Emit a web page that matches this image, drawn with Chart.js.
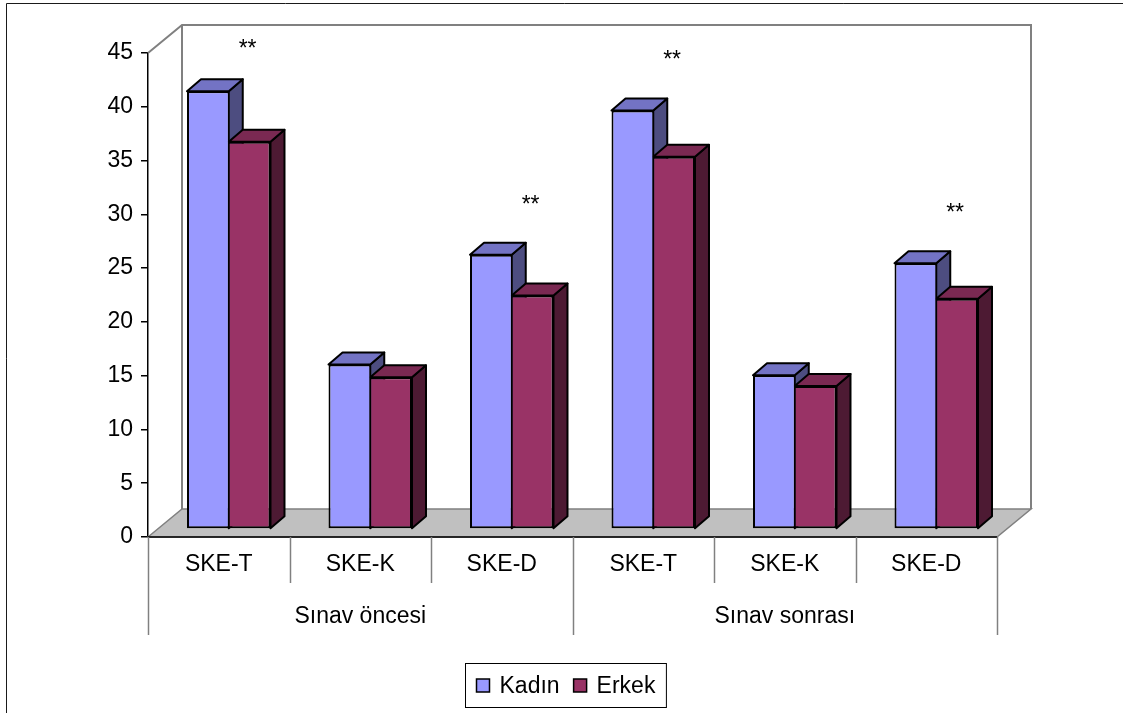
<!DOCTYPE html>
<html>
<head>
<meta charset="utf-8">
<style>
  html, body { margin: 0; padding: 0; background: #fff; }
  canvas { display: block; }
</style>
<script src="https://cdn.jsdelivr.net/npm/chart.js@4.4.1/dist/chart.umd.min.js"></script>
</head>
<body>
<canvas id="chart" width="1123" height="713"></canvas>
<script>
// ---- data ----
const categories = ['SKE-T', 'SKE-K', 'SKE-D', 'SKE-T', 'SKE-K', 'SKE-D'];
const groups = ['Sınav öncesi', 'Sınav sonrası'];
const seriesNames = ['Kadın', 'Erkek'];
const kadin = [40.7, 15.3, 25.5, 38.9, 14.3, 24.7];
const erkek = [36.0, 14.1, 21.7, 34.6, 13.3, 21.4];
const significance = ['**', '', '**', '**', '', '**'];
const yTickValues = [0, 5, 10, 15, 20, 25, 30, 35, 40, 45];

// ---- look ----
const FONT = "'Liberation Sans', Arial, Helvetica, sans-serif";
const FONT_SIZE = 23;
const WALL = { dx: 34, dy: -28 };   // depth of the floor / back wall
const SHIFT = { dx: 10, dy: -8 };   // columns stand half way back on the floor
const DEPTH = { dx: 14, dy: -12 };  // thickness of each column
const shades = [
  { front: '#9999FF', top: '#7373C4', side: '#4D4D80' },
  { front: '#993366', top: '#7A2952', side: '#4D1A33' }
];

function poly(ctx, pts, fill) {
  ctx.beginPath();
  ctx.moveTo(pts[0][0], pts[0][1]);
  for (let i = 1; i < pts.length; i++) ctx.lineTo(pts[i][0], pts[i][1]);
  ctx.closePath();
  ctx.fillStyle = fill;
  ctx.fill();
  ctx.lineWidth = 2;
  ctx.lineJoin = 'round';
  ctx.strokeStyle = '#000';
  ctx.stroke();
}

// floor, back wall and the top/side faces of the columns
const scene = {
  id: 'scene',
  beforeDatasetsDraw(chart) {
    const { ctx, chartArea: a } = chart;
    ctx.save();
    // floor
    ctx.beginPath();
    ctx.moveTo(a.left, a.bottom);
    ctx.lineTo(a.left + WALL.dx, a.bottom + WALL.dy);
    ctx.lineTo(a.right + WALL.dx, a.bottom + WALL.dy);
    ctx.lineTo(a.right, a.bottom);
    ctx.closePath();
    ctx.fillStyle = '#C0C0C0';
    ctx.fill();
    ctx.strokeStyle = '#808080';
    ctx.lineWidth = 1.5;
    ctx.stroke();
    // back wall
    ctx.beginPath();
    ctx.moveTo(a.left, a.top);
    ctx.lineTo(a.left + WALL.dx, a.top + WALL.dy);
    ctx.lineTo(a.right + WALL.dx, a.top + WALL.dy);
    ctx.lineTo(a.right + WALL.dx, a.bottom + WALL.dy);
    ctx.moveTo(a.left + WALL.dx, a.top + WALL.dy);
    ctx.lineTo(a.left + WALL.dx, a.bottom + WALL.dy);
    ctx.strokeStyle = '#808080';
    ctx.lineWidth = 2;
    ctx.stroke();
    // front edge of the floor
    ctx.beginPath();
    ctx.moveTo(a.left, a.bottom);
    ctx.lineTo(a.right, a.bottom);
    ctx.strokeStyle = '#000';
    ctx.lineWidth = 1.5;
    ctx.stroke();
    ctx.restore();

    // columns: shifted back, faces drawn before the fronts
    ctx.save();
    ctx.translate(SHIFT.dx, SHIFT.dy);
    const metas = chart.getSortedVisibleDatasetMetas();
    const n = chart.data.labels.length;
    for (let i = 0; i < n; i++) {
      for (const m of metas) {
        const p = m.data[i].getProps(['x', 'y', 'base', 'width'], true);
        const l = p.x - p.width / 2, r = p.x + p.width / 2;
        const s = shades[m.index];
        poly(ctx, [[r, p.y], [r + DEPTH.dx, p.y + DEPTH.dy], [r + DEPTH.dx, p.base + DEPTH.dy], [r, p.base]], s.side);
        poly(ctx, [[l, p.y], [l + DEPTH.dx, p.y + DEPTH.dy], [r + DEPTH.dx, p.y + DEPTH.dy], [r, p.y]], s.top);
      }
    }
    // context stays translated while Chart.js draws the front faces
  },
  afterDatasetsDraw(chart) {
    const { ctx, scales } = chart;
    ctx.restore();
    // significance marks above each pair
    ctx.save();
    ctx.font = FONT_SIZE + 'px ' + FONT;
    ctx.fillStyle = '#000';
    ctx.textAlign = 'center';
    ctx.textBaseline = 'middle';
    const meta = chart.getDatasetMeta(1);
    significance.forEach((mark, i) => {
      if (!mark) return;
      const top = Math.max(kadin[i], erkek[i]);
      const v = Math.min(top + 4.6, 44.6);
      ctx.fillText(mark, meta.data[i].x + SHIFT.dx - 2, scales.y.getPixelForValue(v) + SHIFT.dy);
    });
    ctx.restore();
  },
  afterDraw(chart) {
    const { ctx, chartArea: a, scales } = chart;
    const x = scales.x;
    const n = categories.length;
    const catW = (x.right - x.left) / n;
    const per = n / groups.length;
    ctx.save();
    // category and group separators
    ctx.strokeStyle = '#808080';
    ctx.lineWidth = 1.5;
    for (let i = 0; i <= n; i++) {
      const px = Math.round(x.left + catW * i) + 0.5;
      const len = (i % per === 0) ? 98 : 46;
      ctx.beginPath();
      ctx.moveTo(px, a.bottom);
      ctx.lineTo(px, a.bottom + len);
      ctx.stroke();
    }
    // group labels
    ctx.font = FONT_SIZE + 'px ' + FONT;
    ctx.fillStyle = '#000';
    ctx.textAlign = 'center';
    ctx.textBaseline = 'middle';
    groups.forEach((g, gi) => {
      const cx = x.left + catW * per * (gi + 0.5);
      ctx.fillText(g, cx, a.bottom + 80);
    });

    // legend
    const sq = 13, gapIn = 10, gapItem = 14, pad = 11;
    const widths = seriesNames.map(t => ctx.measureText(t).width);
    const total = pad * 2 + widths.reduce((s, w) => s + sq + gapIn + w, 0) + gapItem * (seriesNames.length - 1);
    const bx = Math.round(chart.width / 2 - total / 2 + 4) + 0.5;
    const by = chart.height - 50 + 0.5;
    const bh = 44;
    ctx.strokeStyle = '#000';
    ctx.lineWidth = 1;
    ctx.strokeRect(bx, by, total, bh);
    let cx = bx + pad;
    const cy = by + bh / 2;
    ctx.textAlign = 'left';
    seriesNames.forEach((t, i) => {
      ctx.fillStyle = shades[i].front;
      ctx.fillRect(cx, cy - sq / 2, sq, sq);
      ctx.lineWidth = 1.5;
      ctx.strokeStyle = '#000';
      ctx.strokeRect(cx, cy - sq / 2, sq, sq);
      cx += sq + gapIn;
      ctx.fillStyle = '#000';
      ctx.fillText(t, cx, cy + 1);
      cx += widths[i] + gapItem;
    });

    // outer frame
    ctx.beginPath();
    ctx.moveTo(6.5, chart.height);
    ctx.lineTo(6.5, 3.5);
    ctx.lineTo(chart.width, 3.5);
    ctx.strokeStyle = '#1a1a1a';
    ctx.lineWidth = 1;
    ctx.stroke();
    ctx.restore();
  }
};

Chart.defaults.font.family = FONT;
Chart.defaults.font.size = FONT_SIZE;
Chart.defaults.color = '#000';

new Chart(document.getElementById('chart'), {
  type: 'bar',
  data: {
    labels: categories,
    datasets: [
      {
        label: seriesNames[0],
        data: kadin,
        backgroundColor: shades[0].front,
        borderColor: '#000',
        borderWidth: { top: 2, bottom: 2, left: 2, right: 1 },
        borderSkipped: false
      },
      {
        label: seriesNames[1],
        data: erkek,
        backgroundColor: shades[1].front,
        borderColor: '#000',
        borderWidth: { top: 2, bottom: 2, left: 1, right: 2 },
        borderSkipped: false
      }
    ]
  },
  options: {
    responsive: false,
    animation: false,
    events: [],
    categoryPercentage: 0.59,
    barPercentage: 1.0,
    layout: { padding: { top: 53, right: 126, bottom: 0, left: 0 } },
    plugins: {
      legend: { display: false },
      tooltip: { enabled: false },
      title: { display: false }
    },
    scales: {
      x: {
        offset: true,
        grid: { display: false, drawTicks: false },
        border: { display: false },
        ticks: { padding: 14, maxRotation: 0, autoSkip: false },
        afterFit(scale) { scale.height = 176; }
      },
      y: {
        min: 0,
        max: 45,
        afterBuildTicks(scale) { scale.ticks = yTickValues.map(v => ({ value: v })); },
        grid: { drawOnChartArea: false, drawTicks: true, tickLength: 7, color: '#000', lineWidth: 1.5 },
        border: { display: true, color: '#000', width: 1.5 },
        ticks: { padding: 8 },
        afterFit(scale) { scale.width = 148; }
      }
    }
  },
  plugins: [scene]
});
</script>
</body>
</html>
